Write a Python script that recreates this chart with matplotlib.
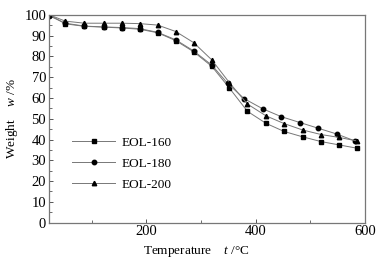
import matplotlib.pyplot as plt

plt.rcParams['font.family'] = ['Liberation Serif', 'DejaVu Serif']
plt.rcParams['mathtext.fontset'] = 'custom'
plt.rcParams['mathtext.it'] = 'Liberation Serif:italic'
plt.rcParams['mathtext.rm'] = 'Liberation Serif'

# temperatures (°C) of the marker points
temp = [23, 52, 87, 123, 156, 188, 221, 254, 287, 320, 352, 385, 419, 452, 486, 520, 553, 586]

eol160 = [100, 95.7, 94.5, 94.1, 93.7, 93.1, 91.4, 87.6, 82.2, 75.2, 64.8, 53.6, 47.8, 43.9, 41.3, 39.0, 37.4, 35.8]
eol180 = [99.5, 96.0, 94.6, 94.2, 93.9, 93.4, 91.6, 88.0, 82.6, 75.8, 67.0, 59.7, 54.8, 51.0, 48.2, 45.4, 42.7, 39.3]
eol200 = [100, 97.0, 96.0, 96.0, 96.0, 95.8, 95.1, 92.0, 86.6, 78.3, 67.4, 57.1, 51.4, 47.7, 44.6, 42.4, 41.0, 39.3]

labels = ['EOL-160', 'EOL-180', 'EOL-200']
markers = ['s', 'o', '^']
circle_shift = [0, 0, 0, 0, 0, 0, 0, 0, 0, 0, -3, -6, -6, -5, -5, -5, -5, -4]

fig = plt.figure(figsize=(3.85, 2.66), dpi=100)
ax = fig.add_axes([0.127, 0.163, 0.821, 0.781])

series = [(temp, eol160), ([t + s for t, s in zip(temp, circle_shift)], eol180), (temp, eol200)]
for (x, y), lab, m in zip(series, labels, markers):
    ax.plot(x, y, color='#777777', lw=0.7, marker=m, markersize=3.2,
            markerfacecolor='black', markeredgecolor='black', label=lab)

ax.set_xlim(22, 600)
ax.set_ylim(0, 100)
ax.set_xticks([200, 400, 600])
ax.set_xticks([100, 300, 500], minor=True)
ax.set_yticks(range(0, 101, 10))
ax.set_yticks(range(5, 100, 10), minor=True)
ax.tick_params(direction='in', labelsize=10.5, color='#555555', length=3, width=0.7, pad=2)
ax.tick_params(which='minor', direction='in', length=2, width=0.6, color='#555555')
for sp in ax.spines.values():
    sp.set_color('#777777')
    sp.set_linewidth(0.9)

leg = ax.legend(loc='upper left', bbox_to_anchor=(0.035, 0.47), frameon=False,
                fontsize=9.5, handlelength=3.3, labelspacing=0.65, handletextpad=0.45)

fig.text(0.51, 0.055, 'Temperature    $\\mathit{t}$ /°C', ha='center', va='center', fontsize=9.5)
fig.text(0.03, 0.555, 'Weight    $\\mathit{w}$ /%', ha='center', va='center', rotation=90, fontsize=9.5)

fig.savefig('out.png', dpi=100)
